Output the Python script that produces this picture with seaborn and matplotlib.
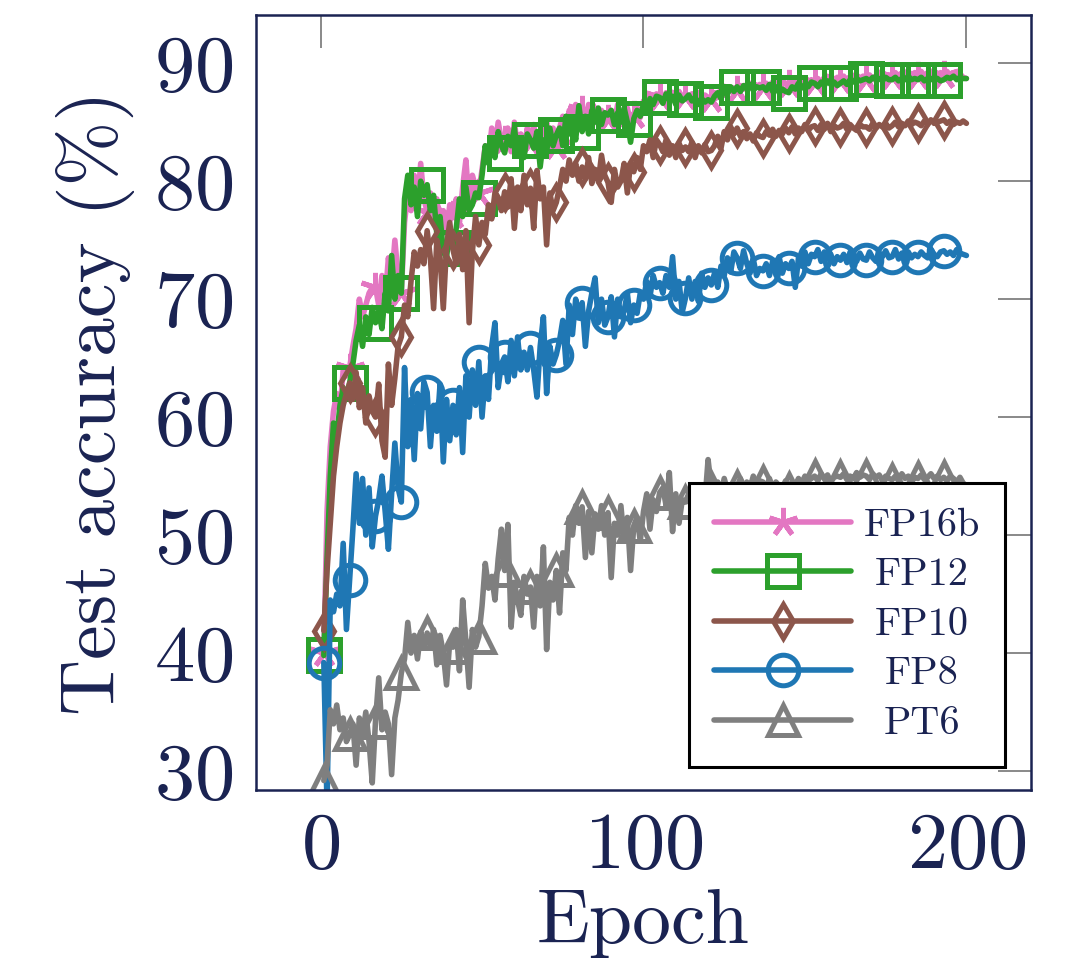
import pandas as pd
import seaborn as sns
import matplotlib.pyplot as plt
from matplotlib.transforms import ScaledTranslation

epochs = list(range(1, 201))

fp16b = [
    40.0, 52.0, 57.5, 60.5, 62.0, 60.5, 64.0, 63.5,
    64.2, 66.0, 67.5, 70.0, 68.5, 69.5, 70.5, 71.0,
    71.0, 69.5, 72.0, 70.0, 73.5, 71.5, 75.0, 72.0,
    70.5, 76.5, 79.0, 77.5, 80.5, 78.0, 81.5, 78.5,
    77.4, 79.0, 76.5, 78.5, 76.0, 77.5, 75.5, 78.0,
    77.1, 78.5, 76.5, 79.5, 81.8, 78.0, 80.5, 79.5,
    79.0, 81.0, 83.0, 82.0, 84.5, 83.0, 85.0, 83.5,
    83.5, 84.5, 82.5, 85.0, 83.0, 84.0, 82.5, 84.5,
    83.2, 84.8, 82.5, 84.0, 83.5, 85.0, 82.8, 84.5,
    83.0, 84.5, 85.5, 84.0, 86.0, 85.0, 86.5, 85.5,
    86.0, 85.2, 86.5, 85.0, 86.2, 84.8, 86.0, 85.5,
    85.3, 86.0, 85.0, 86.5, 84.8, 85.8, 86.2, 85.0,
    85.6, 86.2, 85.4, 86.8, 86.0, 87.2, 86.5, 87.4,
    87.1, 86.8, 87.5, 86.9, 87.3, 87.0, 87.6, 87.1,
    87.2, 86.9, 87.4, 87.0, 87.5, 86.8, 87.3, 87.1,
    87.0, 87.5, 87.2, 87.8, 87.4, 88.0, 87.6, 87.9,
    87.7, 88.1, 87.8, 88.2, 87.9, 88.3, 88.0, 88.2,
    88.0, 88.3, 87.9, 88.4, 88.1, 88.5, 88.2, 88.3,
    88.2, 88.5, 88.1, 88.6, 88.3, 88.5, 88.2, 88.6,
    88.4, 88.7, 88.3, 88.8, 88.5, 88.7, 88.4, 88.8,
    88.6, 88.9, 88.5, 88.8, 88.6, 89.0, 88.7, 88.9,
    88.7, 89.0, 88.6, 88.9, 88.7, 89.1, 88.8, 89.0,
    88.9, 89.2, 88.8, 89.1, 88.9, 89.3, 89.0, 89.2,
    88.9, 89.3, 88.9, 89.2, 89.0, 89.4, 89.0, 89.2,
    89.0, 89.3, 88.9, 89.2, 89.0, 89.1, 88.8, 88.7,
]

fp12 = [
    39.8, 48.0, 55.0, 59.5, 58.3, 61.0, 62.5, 61.5,
    62.9, 64.5, 66.5, 67.8, 66.0, 68.5, 67.0, 69.3,
    68.0, 69.0, 67.5, 70.5, 69.0, 73.7, 70.0, 72.0,
    70.5, 78.5, 80.5, 78.0, 79.5, 77.0, 80.0, 78.8,
    79.7, 77.5, 78.8, 75.5, 77.0, 74.0, 73.5, 76.0,
    74.3, 76.0, 78.5, 77.0, 79.5, 77.5, 78.0, 79.0,
    78.6, 80.5, 83.0, 81.5, 83.5, 82.0, 84.2, 83.0,
    82.4, 83.8, 83.0, 84.5, 82.5, 83.5, 82.0, 84.0,
    83.5, 82.8, 84.2, 81.2, 83.5, 82.5, 84.5, 83.0,
    83.9, 84.5, 83.0, 85.5, 84.0, 85.0, 83.5, 86.4,
    84.2, 85.5, 84.0, 86.0, 85.0, 86.2, 84.8, 85.8,
    85.6, 86.0, 84.8, 85.8, 85.0, 86.2, 85.0, 83.3,
    85.3, 86.0, 85.5, 86.5, 85.8, 87.0, 86.5, 87.2,
    87.1, 86.6, 87.4, 86.9, 87.2, 86.5, 87.3, 86.8,
    87.0, 87.3, 86.8, 87.1, 86.5, 87.0, 86.7, 86.9,
    86.7, 87.2, 87.5, 87.0, 87.8, 87.4, 88.0, 87.6,
    88.0, 87.6, 88.1, 87.8, 88.2, 87.7, 88.0, 87.9,
    88.0, 87.7, 88.2, 87.6, 88.0, 87.5, 87.8, 87.6,
    87.5, 88.0, 87.8, 88.3, 87.9, 88.2, 88.0, 88.4,
    88.3, 88.0, 88.4, 88.1, 88.5, 88.2, 88.4, 88.1,
    88.3, 88.5, 88.2, 88.6, 88.4, 88.7, 88.5, 88.6,
    88.7, 88.5, 88.8, 88.6, 88.7, 88.5, 88.8, 88.6,
    88.6, 88.8, 88.5, 88.7, 88.6, 88.9, 88.6, 88.7,
    88.6, 88.8, 88.5, 88.7, 88.6, 88.8, 88.7, 88.5,
    88.6, 88.8, 88.7, 88.9, 88.6, 88.8, 88.7, 88.7,
]

fp10 = [
    41.9, 47.0, 51.0, 55.0, 57.5, 59.5, 61.0, 62.0,
    62.9, 61.5, 63.8, 60.8, 62.5, 59.5, 61.8, 60.5,
    60.0, 62.8, 58.0, 56.6, 64.5, 61.0, 63.3, 66.0,
    66.8, 69.5, 68.5, 71.5, 74.0, 72.8, 74.2, 73.0,
    75.8, 73.5, 69.2, 75.0, 73.5, 69.2, 74.5, 76.5,
    74.2, 73.0, 75.5, 72.5, 75.8, 68.0, 74.0, 77.0,
    74.6, 76.5, 75.5, 78.0, 76.8, 79.0, 78.5, 77.5,
    79.1, 77.8, 80.2, 76.0, 79.5, 77.5, 80.5, 78.0,
    79.4, 76.0, 80.9, 78.5, 79.5, 74.6, 79.0, 77.5,
    78.2, 79.5, 81.0, 80.0, 81.8, 80.5, 81.5, 80.0,
    81.2, 80.2, 82.0, 79.8, 81.0, 80.0, 82.2, 80.5,
    79.9, 78.2, 81.0, 79.5, 80.0, 81.5, 79.0, 81.5,
    80.8, 82.0, 81.0, 83.0, 82.5, 83.5, 82.0, 83.5,
    83.1, 82.5, 83.5, 82.2, 83.0, 82.0, 83.2, 82.6,
    82.9, 82.5, 83.3, 82.0, 83.0, 82.4, 83.1, 82.5,
    82.6, 83.0, 83.8, 82.8, 84.2, 83.5, 84.6, 84.0,
    84.5, 83.8, 84.2, 83.6, 84.0, 83.4, 84.1, 83.8,
    83.7, 84.2, 83.9, 84.4, 83.8, 84.3, 84.0, 84.5,
    84.1, 84.6, 84.0, 84.5, 84.2, 84.8, 84.3, 84.6,
    84.7, 84.3, 84.8, 84.4, 84.9, 84.2, 84.7, 84.5,
    84.6, 84.9, 84.4, 84.8, 84.5, 84.3, 84.8, 84.6,
    84.6, 84.4, 84.9, 84.5, 84.8, 84.6, 84.9, 84.5,
    84.7, 85.0, 84.6, 84.9, 84.7, 85.1, 84.8, 85.0,
    84.9, 84.7, 85.1, 84.8, 85.2, 84.9, 85.0, 85.1,
    85.2, 84.9, 85.1, 84.8, 85.0, 84.9, 85.1, 84.9,
]

fp8 = [
    39.2, 27.0, 44.5, 43.5, 45.0, 44.0, 49.3, 42.0,
    46.2, 50.5, 55.2, 51.0, 54.8, 50.0, 54.0, 49.0,
    51.6, 53.0, 55.0, 52.0, 48.8, 53.5, 57.8, 54.0,
    52.8, 64.2, 57.5, 61.5, 56.4, 62.0, 59.0, 63.0,
    62.1, 57.5, 61.0, 58.8, 62.8, 56.2, 61.5, 58.0,
    61.0, 58.5, 62.5, 57.0, 63.5, 60.0, 64.0, 61.0,
    64.7, 60.0, 63.5, 61.5, 66.0, 68.0, 62.5, 64.5,
    65.1, 63.0, 66.5, 63.5, 66.8, 64.0, 65.5, 64.0,
    65.9, 64.0, 61.7, 66.0, 68.5, 62.0, 66.0, 64.5,
    65.3, 66.5, 68.2, 64.5, 69.5, 67.0, 70.0, 68.5,
    69.7, 66.0, 69.0, 70.5, 71.8, 68.0, 70.0, 67.8,
    68.5, 70.2, 66.8, 70.0, 68.5, 69.0, 70.5, 68.0,
    69.5, 68.8, 70.5, 70.0, 71.5, 70.2, 72.0, 71.0,
    71.4, 70.5, 72.0, 71.0, 73.6, 70.0, 71.5, 68.9,
    70.1, 71.8, 70.0, 71.5, 69.8, 72.2, 71.0, 71.8,
    71.2, 72.2, 71.0, 72.8, 72.0, 73.5, 72.3, 74.0,
    73.5, 72.6, 74.1, 73.0, 72.2, 73.4, 72.0, 72.6,
    72.4, 73.0, 72.0, 73.2, 72.5, 73.6, 72.2, 73.0,
    72.6, 73.2, 71.0, 73.5, 72.8, 74.0, 73.0, 73.8,
    73.6, 74.2, 73.2, 74.0, 73.4, 73.8, 73.0, 73.6,
    73.3, 73.8, 73.1, 74.0, 73.5, 73.2, 73.9, 73.4,
    73.3, 74.0, 73.5, 73.2, 73.8, 73.6, 74.1, 73.5,
    73.6, 74.2, 73.4, 73.9, 73.6, 74.0, 73.5, 73.8,
    73.6, 74.0, 73.7, 73.5, 74.2, 73.8, 73.6, 74.0,
    74.1, 73.8, 74.0, 73.7, 74.2, 73.9, 73.8, 73.7,
]

pt6 = [
    29.2, 30.5, 35.2, 34.0, 35.6, 33.5, 34.5, 32.5,
    33.1, 34.0, 30.5, 34.5, 33.0, 35.0, 32.5, 29.0,
    34.2, 37.9, 33.5, 35.0, 34.0, 29.7, 34.5, 36.0,
    38.3, 39.5, 42.6, 40.0, 41.5, 39.5, 41.8, 40.5,
    41.7, 40.5, 42.0, 39.0, 41.5, 40.0, 37.3, 41.0,
    40.5, 42.0, 38.5, 44.5, 41.0, 37.1, 42.0, 40.5,
    41.4, 44.0, 47.6, 45.5, 46.5, 44.5, 48.0, 50.5,
    47.0, 50.9, 42.2, 46.0, 44.5, 43.2, 46.5, 45.0,
    45.6, 42.2, 46.5, 44.0, 49.0, 40.3, 46.0, 44.5,
    47.0, 43.4, 48.5, 47.0, 51.5, 50.0, 52.5, 51.0,
    52.4, 48.1, 52.0, 48.5, 51.8, 50.5, 52.5, 50.0,
    51.9, 46.4, 51.0, 50.0, 52.5, 49.5, 51.5, 47.0,
    50.8, 51.5, 49.5, 52.0, 53.5, 50.5, 53.0, 52.0,
    53.6, 54.0, 52.5, 55.3, 50.3, 53.5, 51.0, 53.0,
    52.8, 53.5, 52.0, 54.0, 53.0, 54.2, 52.8, 56.4,
    54.0, 53.0, 54.5, 53.5, 54.8, 53.8, 54.2, 53.5,
    54.1, 54.8, 53.8, 54.5, 54.0, 55.0, 54.2, 54.6,
    54.5, 54.0, 54.8, 53.9, 54.5, 54.2, 54.0, 54.6,
    53.9, 54.5, 54.2, 54.8, 54.4, 55.0, 54.6, 54.8,
    55.0, 54.6, 55.2, 54.8, 55.1, 54.5, 54.9, 55.0,
    54.9, 55.2, 54.7, 55.0, 54.8, 55.3, 54.9, 55.1,
    55.0, 54.7, 55.2, 54.9, 55.1, 54.6, 55.0, 54.8,
    54.7, 55.0, 54.6, 55.2, 54.8, 55.0, 54.5, 54.9,
    54.8, 55.1, 54.7, 54.9, 55.2, 54.8, 55.0, 54.7,
    54.9, 54.6, 55.0, 54.8, 54.5, 54.9, 54.4, 54.2,
]

names = ['FP16b', 'FP12', 'FP10', 'FP8', 'PT6']
colors = ['#e377c2', '#2ca02c', '#8c564b', '#1f77b4', '#7f7f7f']
markers = [(5, 2, 0), 's', 'd', 'o', '^']
msizes = [21, 23, 17, 22, 22]

df = pd.DataFrame({'Epoch': epochs, 'FP16b': fp16b, 'FP12': fp12,
                   'FP10': fp10, 'FP8': fp8, 'PT6': pt6})

sns.set_style('white')
plt.rcParams['font.family'] = ['cmr10', 'DejaVu Serif']
plt.rcParams['mathtext.fontset'] = 'cm'
plt.rcParams['axes.formatter.use_mathtext'] = True

navy = '#1a2352'

fig = plt.figure(figsize=(10.88, 9.61), dpi=100)
ax = fig.add_axes([0.2353, 0.178, 0.7123, 0.8066])

for name, col, mk, ms in zip(names, colors, markers, msizes):
    sns.lineplot(data=df, x='Epoch', y=name, ax=ax, color=col, label=name,
                 errorbar=None, linewidth=4.0, marker=mk, markevery=8,
                 markersize=ms, markerfacecolor='none',
                 markeredgecolor=col, markeredgewidth=3.6)
    ax.lines[-1].set_markerfacecolor('none')

ax.set_xlim(-20, 220)
ax.set_ylim(28.4, 94.1)
ax.set_xticks([0, 100, 200])
ax.set_yticks([30, 40, 50, 60, 70, 80, 90])
ax.tick_params(direction='in', length=24, width=1.3, color='#808080',
               top=True, right=True, labelsize=58, labelcolor=navy, pad=16)
for sp in ax.spines.values():
    sp.set_color(navy)
    sp.set_linewidth(1.8)

ax.set_xlabel('Epoch', fontsize=56, color=navy, labelpad=4)
ax.set_ylabel('Test accuracy (%)', fontsize=56, color=navy, labelpad=14)

leg = ax.legend(loc='lower right', bbox_to_anchor=(0.966, 0.0297),
                borderaxespad=0, fontsize=29, frameon=True, fancybox=False,
                framealpha=1, edgecolor='black', handlelength=3.4,
                labelspacing=0.33, borderpad=0.62, handletextpad=0.3)
leg.get_frame().set_linewidth(2.2)
for t in leg.get_texts():
    t.set_color(navy)

# centre the legend labels like pgfplots does
fig.canvas.draw()
texts = leg.get_texts()
widths = [t.get_window_extent().width for t in texts]
wmax = max(widths)
for t, w in zip(texts, widths):
    dx = (wmax - w) / 2 / fig.dpi
    t.set_transform(t.get_transform() + ScaledTranslation(dx, 0, fig.dpi_scale_trans))

fig.savefig('out.png', dpi=100)
